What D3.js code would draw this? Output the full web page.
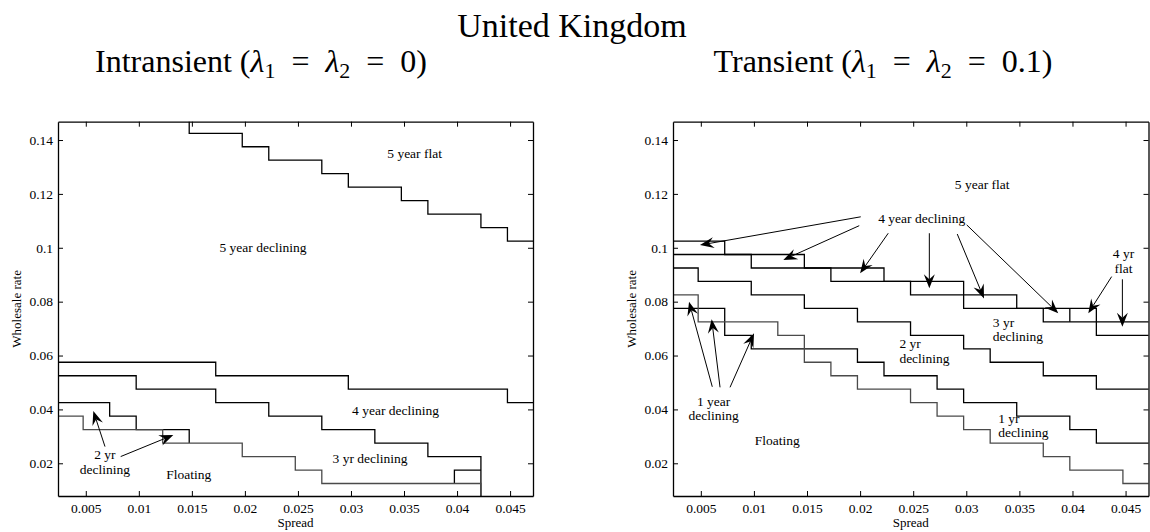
<!DOCTYPE html>
<html>
<head>
	<meta charset="utf-8">
	<title>United Kingdom</title>
</head>

<style>
	body { margin:0; background:#fff; }
	svg text { font-family:"Liberation Serif", "Times New Roman", serif; fill:#000; }
	.tick text, .note { font-size:13.5px; }
	.axis-title { font-size:13px; }
	.title { font-size:32px; }
	.title.main { font-size:34px; }
</style>

<body>
<script src="https://d3js.org/d3.v7.min.js" charset="utf-8"></script>
<svg width="1150" height="532"></svg>
<script>

	// axis ticks (same for both panels)
	var xTicks = [0.005, 0.01, 0.015, 0.02, 0.025, 0.03, 0.035, 0.04, 0.045];
	var xTickLabels = ["0.005", "0.01", "0.015", "0.02", "0.025", "0.03", "0.035", "0.04", "0.045"];
	var yTicks = [0.02, 0.04, 0.06, 0.08, 0.1, 0.12, 0.14];
	var yTickLabels = ["0.02", "0.04", "0.06", "0.08", "0.1", "0.12", "0.14"];
	var xLimits = [0.00238, 0.04716];
	var yLimits = [0.00786, 0.1468];

	// Intransient panel: region boundaries as step functions (break points on spread, rate levels)
	var intr5yrBreaks = [0.01475, 0.01975, 0.02225, 0.02725, 0.02975, 0.03475, 0.03725, 0.04225, 0.04475];
	var intr5yrLevels = [0.15, 0.1425, 0.1375, 0.1325, 0.1275, 0.1225, 0.1175, 0.1125, 0.1075, 0.1025];
	var intr4yrBreaks = [0.01725, 0.02975, 0.04475];
	var intr4yrLevels = [0.0575, 0.0525, 0.0475, 0.0425];
	var intr3yrBreaks = [0.00975, 0.01725, 0.02225, 0.02725, 0.03225, 0.03725, 0.04225];
	var intr3yrLevels = [0.0525, 0.0475, 0.0425, 0.0375, 0.0325, 0.0275, 0.0225, 0.0];
	var intr2yrBreaks = [0.00725, 0.00975, 0.01475];
	var intr2yrLevels = [0.0425, 0.0375, 0.0325, 0.0275];
	var intr2yrTailBreaks = [0.03975];
	var intr2yrTailLevels = [0.0125, 0.0175];
	var intrFloatBreaks = [0.00475, 0.01225, 0.01975, 0.02475, 0.02725, 0.04225];
	var intrFloatLevels = [0.0375, 0.0325, 0.0275, 0.0225, 0.0175, 0.0125, 0.0];

	// Transient panel
	var tr5yrBreaks = [0.00725, 0.01475, 0.02225, 0.02975, 0.04225];
	var tr5yrLevels = [0.1025, 0.0975, 0.0925, 0.0875, 0.0775, 0.0675];
	var tr4yrBreaks = [0.00975, 0.01725, 0.02475, 0.03475, 0.03725];
	var tr4yrLevels = [0.0975, 0.0925, 0.0875, 0.0825, 0.0775, 0.0725];
	var tr4yrFlatBreaks = [0.03975];
	var tr4yrFlatLevels = [0.0775, 0.0725];
	var tr3yrBreaks = [0.00475, 0.00975, 0.01475, 0.01975, 0.02475, 0.02975, 0.03225, 0.03725, 0.04225];
	var tr3yrLevels = [0.0925, 0.0875, 0.0825, 0.0775, 0.0725, 0.0675, 0.0625, 0.0575, 0.0525, 0.0475];
	var tr2yrBreaks = [0.00725, 0.00975, 0.01975, 0.02225, 0.02725, 0.02975, 0.03475, 0.03975, 0.04225];
	var tr2yrLevels = [0.0775, 0.0675, 0.0625, 0.0575, 0.0525, 0.0475, 0.0425, 0.0375, 0.0325, 0.0275];
	var trFloatBreaks = [0.00475, 0.01225, 0.01475, 0.01725, 0.01975, 0.02475, 0.02725, 0.02975, 0.03225, 0.03725, 0.03975, 0.04475];
	var trFloatLevels = [0.0825, 0.0725, 0.0675, 0.0575, 0.0525, 0.0475, 0.0425, 0.0375, 0.0325, 0.0275, 0.0225, 0.0175, 0.0125];

	// annotations: text, anchor (spread, rate)
	var intrNotes = [
		{text:["5 year flat"], x:0.0360, y:0.1334, anchor:"middle"},
		{text:["5 year declining"], x:0.0217, y:0.0986, anchor:"middle"},
		{text:["4 year declining"], x:0.0342, y:0.0379, anchor:"middle"},
		{text:["3 yr declining"], x:0.0318, y:0.0202, anchor:"middle"},
		{text:["Floating"], x:0.0147, y:0.0141, anchor:"middle"},
		{text:["2 yr", "declining"], x:0.0068, y:0.0215, anchor:"middle"}
	];
	var intrArrows = [
		[0.00681, 0.0262, 0.00571, 0.0394],
		[0.00829, 0.0225, 0.01325, 0.0305]
	];
	var trNotes = [
		{text:["5 year flat"], x:0.0315, y:0.1218, anchor:"middle"},
		{text:["4 year declining"], x:0.0258, y:0.1091, anchor:"middle"},
		{text:["4 yr", "flat"], x:0.0448, y:0.0961, anchor:"middle"},
		{text:["3 yr", "declining"], x:0.0325, y:0.0707, anchor:"start"},
		{text:["2 yr", "declining"], x:0.0237, y:0.0627, anchor:"start"},
		{text:["1 yr", "declining"], x:0.0330, y:0.0351, anchor:"start"},
		{text:["1 year", "declining"], x:0.0062, y:0.0414, anchor:"middle"},
		{text:["Floating"], x:0.0122, y:0.0268, anchor:"middle"}
	];
	var trArrows = [
		[0.02006, 0.1115, 0.00492, 0.1010],
		[0.01992, 0.1082, 0.01277, 0.0955],
		[0.02265, 0.1054, 0.0200, 0.0905],
		[0.02652, 0.1054, 0.02652, 0.0850],
		[0.02915, 0.1051, 0.03167, 0.0812],
		[0.03004, 0.1085, 0.03866, 0.0757],
		[0.04369, 0.0893, 0.04149, 0.0757],
		[0.04470, 0.0883, 0.04470, 0.0707],
		[0.00608, 0.0484, 0.00389, 0.0800],
		[0.00681, 0.0482, 0.00602, 0.0735],
		[0.00775, 0.0482, 0.01001, 0.0683]
	];

	function boundary(breaks, levels, start, end, tone) {
		return {breaks:breaks, levels:levels, start:start, end:end, tone:tone || "dark"};
	}

	var panels = [
		{
			left:58, right:533,
			series:[
				boundary(intr5yrBreaks, intr5yrLevels, 0.01475, null),
				boundary(intr4yrBreaks, intr4yrLevels, null, null),
				boundary(intr3yrBreaks, intr3yrLevels, null, 0.04225),
				boundary(intr2yrBreaks, intr2yrLevels, null, 0.01475),
				boundary(intr2yrTailBreaks, intr2yrTailLevels, 0.03975, 0.04225),
				boundary(intrFloatBreaks, intrFloatLevels, null, 0.04225, "light")
			],
			notes:intrNotes, arrows:intrArrows
		},
		{
			left:673, right:1148.5,
			series:[
				boundary(tr5yrBreaks, tr5yrLevels, null, null),
				boundary(tr4yrBreaks, tr4yrLevels, null, null),
				boundary(tr4yrFlatBreaks, tr4yrFlatLevels, 0.03975, 0.03975),
				boundary(tr3yrBreaks, tr3yrLevels, null, null),
				boundary(tr2yrBreaks, tr2yrLevels, null, null),
				boundary(trFloatBreaks, trFloatLevels, null, null, "light")
			],
			notes:trNotes, arrows:trArrows
		}
	];

	var svg = d3.select("svg");
	var plotTop = 121.7, plotBottom = 496;

	function stepPoints(s) {
		var x0 = s.start === null ? xLimits[0] - 0.001 : s.start;
		var x1 = s.end === null ? xLimits[1] + 0.001 : s.end;
		var pts = [[x0, s.levels[0]]];
		s.breaks.forEach(function(b, i){ pts.push([b, s.levels[i+1]]); });
		pts.push([x1, s.levels[s.levels.length-1]]);
		return pts;
	}

	function drawArrow(g, x1, y1, x2, y2) {
		var a = Math.atan2(y2 - y1, x2 - x1);
		var ca = Math.cos(a), sa = Math.sin(a);
		var len = 14, half = 5.5, notch = 9;
		function pt(back, side) {
			return [x2 - back*ca - side*sa, y2 - back*sa + side*ca];
		}
		g.append("line")
		 .attr("x1", x1).attr("y1", y1)
		 .attr("x2", pt(notch, 0)[0]).attr("y2", pt(notch, 0)[1])
		 .attr("stroke", "#000").attr("stroke-width", 1);
		g.append("path")
		 .attr("d", "M" + [x2, y2] + "L" + pt(len, half) + "L" + pt(notch, 0) + "L" + pt(len, -half) + "Z")
		 .attr("fill", "#000");
	}

	panels.forEach(function(p, pi){
		var x = d3.scaleLinear().domain(xLimits).range([p.left, p.right]);
		var y = d3.scaleLinear().domain(yLimits).range([plotBottom, plotTop]);
		var g = svg.append("g");

		svg.append("clipPath").attr("id", "clip" + pi)
		   .append("rect")
		   .attr("x", p.left).attr("y", plotTop)
		   .attr("width", p.right - p.left).attr("height", plotBottom - plotTop);

		var line = d3.line()
					 .curve(d3.curveStepAfter)
					 .x(function(d){ return x(d[0]); })
					 .y(function(d){ return y(d[1]); });

		g.append("g").attr("clip-path", "url(#clip" + pi + ")")
		 .selectAll("path")
		 .data(p.series)
		 .enter()
		 .append("path")
		 .attr("d", function(s){ return line(stepPoints(s)); })
		 .attr("fill", "none")
		 .attr("stroke", function(s){ return s.tone === "light" ? "#4a4a4a" : "#000"; })
		 .attr("stroke-width", 1.3);

		// frame with inward ticks on all four sides
		var axes = [
			{axis:d3.axisBottom(x).tickValues(xTicks).tickFormat(function(d, i){ return xTickLabels[i]; }).tickPadding(7), tr:"translate(0," + plotBottom + ")"},
			{axis:d3.axisTop(x).tickValues(xTicks).tickFormat(""), tr:"translate(0," + plotTop + ")"},
			{axis:d3.axisLeft(y).tickValues(yTicks).tickFormat(function(d, i){ return yTickLabels[i]; }).tickPadding(5), tr:"translate(" + p.left + ",0)"},
			{axis:d3.axisRight(y).tickValues(yTicks).tickFormat(""), tr:"translate(" + p.right + ",0)"}
		];
		axes.forEach(function(a){
			var ag = g.append("g")
					  .attr("transform", a.tr)
					  .call(a.axis.tickSizeInner(-5).tickSizeOuter(0));
			ag.attr("font-size", null).attr("font-family", null);
			ag.select(".domain").attr("stroke-width", 1.3);
			ag.selectAll(".tick line").attr("stroke-width", 1);
		});

		g.append("text").attr("class", "axis-title")
		 .attr("x", (p.left + p.right) / 2).attr("y", 527)
		 .attr("text-anchor", "middle")
		 .text("Spread");

		g.append("text").attr("class", "axis-title")
		 .attr("transform", "translate(" + (p.left - 37) + "," + ((plotTop + plotBottom) / 2) + ") rotate(-90)")
		 .attr("text-anchor", "middle")
		 .text("Wholesale rate");

		var notes = g.append("g").selectAll("text")
					 .data(p.notes)
					 .enter()
					 .append("text")
					 .attr("class", "note")
					 .attr("text-anchor", function(d){ return d.anchor; });
		notes.selectAll("tspan")
			 .data(function(d){ return d.text.map(function(t){ return {t:t, x:d.x, y:d.y}; }); })
			 .enter()
			 .append("tspan")
			 .attr("x", function(d){ return x(d.x); })
			 .attr("y", function(d, i){ return y(d.y) + i * 14.5; })
			 .text(function(d){ return d.t; });

		var ar = g.append("g");
		p.arrows.forEach(function(a){
			drawArrow(ar, x(a[0]), y(a[1]), x(a[2]), y(a[3]));
		});
	});

	// titles
	svg.append("text").attr("class", "title main")
	   .attr("x", 572).attr("y", 36.5)
	   .attr("text-anchor", "middle")
	   .text("United Kingdom");

	function lambdaTitle(cx, word, value) {
		var t = svg.append("text").attr("class", "title")
				   .attr("x", cx).attr("y", 71.5)
				   .attr("text-anchor", "middle");
		t.append("tspan").text(word + " (");
		t.append("tspan").attr("font-style", "italic").text("\u03bb");
		t.append("tspan").attr("font-size", 22).attr("dy", 6).text("1");
		t.append("tspan").attr("dy", -6).text("\u2002=\u2002");
		t.append("tspan").attr("font-style", "italic").text("\u03bb");
		t.append("tspan").attr("font-size", 22).attr("dy", 6).text("2");
		t.append("tspan").attr("dy", -6).text("\u2002=\u2002" + value + ")");
	}
	lambdaTitle(261, "Intransient", "0");
	lambdaTitle(883, "Transient", "0.1");

</script>
</body>
</html>
